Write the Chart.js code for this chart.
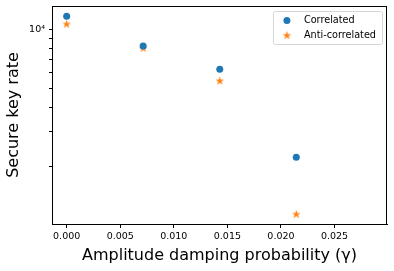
<!DOCTYPE html>
<html>
<head>
<meta charset="utf-8">
<script src="https://cdn.jsdelivr.net/npm/chart.js@4.4.1/dist/chart.umd.min.js"></script>
<style>
  html, body { margin: 0; padding: 0; background: #fff; }
  #wrap { width: 394px; height: 271px; }
</style>
</head>
<body>
<div id="wrap"><canvas id="keyChart"></canvas></div>
<script>
const gamma = [0, 0.00714, 0.01429, 0.02143];
const correlated = [11650, 8213, 6245, 2216];
const antiCorrelated = [10645, 8024, 5461, 1137];
const xTicks = [0, 0.005, 0.01, 0.015, 0.02, 0.025];
const yTicks = [2000, 3000, 4000, 5000, 6000, 7000, 8000, 9000, 10000];

const FONT = "'DejaVu Sans', sans-serif";

// filled star marker like matplotlib "*"
function makeStar(color) {
  const c = document.createElement("canvas");
  c.width = 11;
  c.height = 11;
  const g = c.getContext("2d");
  const cx = 5.5, cy = 5.8, R = 4.6, r = R * 0.382;
  g.beginPath();
  for (let i = 0; i < 10; i++) {
    const rad = i % 2 === 0 ? R : r;
    const a = -Math.PI / 2 + (i * Math.PI) / 5;
    const px = cx + rad * Math.cos(a);
    const py = cy + rad * Math.sin(a);
    if (i === 0) g.moveTo(px, py);
    else g.lineTo(px, py);
  }
  g.closePath();
  g.fillStyle = color;
  g.fill();
  return c;
}

const starImg = makeStar("#ff7f0e");

const toPts = (ys) => gamma.map((x, i) => ({ x: x, y: ys[i] }));

// frame on all four sides + legend box inside the axes
const framePlugin = {
  id: "frame",
  afterDraw(chart) {
    const { ctx, chartArea: a } = chart;
    ctx.save();
    ctx.strokeStyle = "#000";
    ctx.lineWidth = 1;
    ctx.strokeRect(Math.round(a.left) + 0.5, Math.round(a.top) + 0.5,
      Math.round(a.right - a.left) - 1, Math.round(a.bottom - a.top));

    // legend
    ctx.font = "9.7px " + FONT;
    const labels = chart.data.datasets.map((d) => d.label);
    const tw = Math.max(...labels.map((l) => ctx.measureText(l).width));
    const w = 31 + tw + 6;
    const h = 33;
    const x0 = a.right - 5 - w;
    const y0 = a.top + 5;
    ctx.beginPath();
    ctx.roundRect(x0 + 0.5, y0 + 0.5, w, h, 2);
    ctx.fillStyle = "rgba(255,255,255,0.8)";
    ctx.fill();
    ctx.strokeStyle = "#d6d6d6";
    ctx.lineWidth = 1;
    ctx.stroke();

    ctx.textBaseline = "middle";
    chart.data.datasets.forEach((d, i) => {
      const ry = y0 + 9.5 + i * 15;
      const mx = x0 + 14;
      if (d.pointStyle === "circle") {
        ctx.beginPath();
        ctx.arc(mx, ry, 3.5, 0, Math.PI * 2);
        ctx.fillStyle = d.backgroundColor;
        ctx.fill();
      } else {
        ctx.drawImage(d.pointStyle, mx - 5.5, ry - 5.8);
      }
      ctx.fillStyle = "#000";
      ctx.fillText(d.label, x0 + 31, ry);
    });
    ctx.restore();
  },
};

new Chart(document.getElementById("keyChart"), {
  type: "scatter",
  data: {
    datasets: [
      {
        label: "Correlated",
        data: toPts(correlated),
        pointStyle: "circle",
        pointRadius: 3.5,
        pointHoverRadius: 3.5,
        backgroundColor: "#1f77b4",
        borderColor: "#1f77b4",
        borderWidth: 0,
      },
      {
        label: "Anti-correlated",
        data: toPts(antiCorrelated),
        pointStyle: starImg,
        pointRadius: 4,
        backgroundColor: "#ff7f0e",
        borderColor: "#ff7f0e",
        borderWidth: 0,
      },
    ],
  },
  plugins: [framePlugin],
  options: {
    responsive: true,
    maintainAspectRatio: false,
    animation: false,
    events: [],
    layout: { padding: { top: 6, right: 7, left: 0, bottom: 0 } },
    plugins: {
      legend: { display: false },
      tooltip: { enabled: false },
    },
    scales: {
      x: {
        type: "linear",
        min: -0.00137,
        max: 0.0299,
        afterBuildTicks: (s) => {
          s.ticks = xTicks.map((v) => ({ value: v }));
        },
        afterFit: (s) => {
          s.height = 47;
          s.paddingLeft = 0;
          s.paddingRight = 0;
        },
        ticks: {
          color: "#000",
          font: { family: FONT, size: 9.5 },
          padding: 3,
          maxRotation: 0,
          callback: (v) => Number(v).toFixed(3),
        },
        grid: {
          drawOnChartArea: false,
          tickLength: 4,
          tickColor: "#000",
          tickWidth: 1,
        },
        border: { color: "#000", width: 1 },
        title: {
          display: true,
          text: "Amplitude damping probability (γ)",
          color: "#000",
          font: { family: FONT, size: 16 },
          padding: { top: 0, bottom: 6 },
        },
      },
      y: {
        type: "logarithmic",
        min: 1012,
        max: 13150,
        afterBuildTicks: (s) => {
          s.ticks = yTicks.map((v) => ({ value: v }));
        },
        afterFit: (s) => {
          s.width = 52;
          s.paddingTop = 0;
          s.paddingBottom = 0;
        },
        ticks: {
          color: "#000",
          font: { family: FONT, size: 9.5 },
          padding: 4,
          autoSkip: false,
          callback: (v) => (v === 10000 ? "10⁴" : ""),
        },
        grid: {
          drawOnChartArea: false,
          tickLength: 3,
          tickColor: "#000",
          tickWidth: 1,
        },
        border: { color: "#000", width: 1 },
        title: {
          display: true,
          text: "Secure key rate",
          color: "#000",
          font: { family: FONT, size: 16 },
          padding: { top: 4, bottom: 0 },
        },
      },
    },
  },
});
</script>
</body>
</html>
